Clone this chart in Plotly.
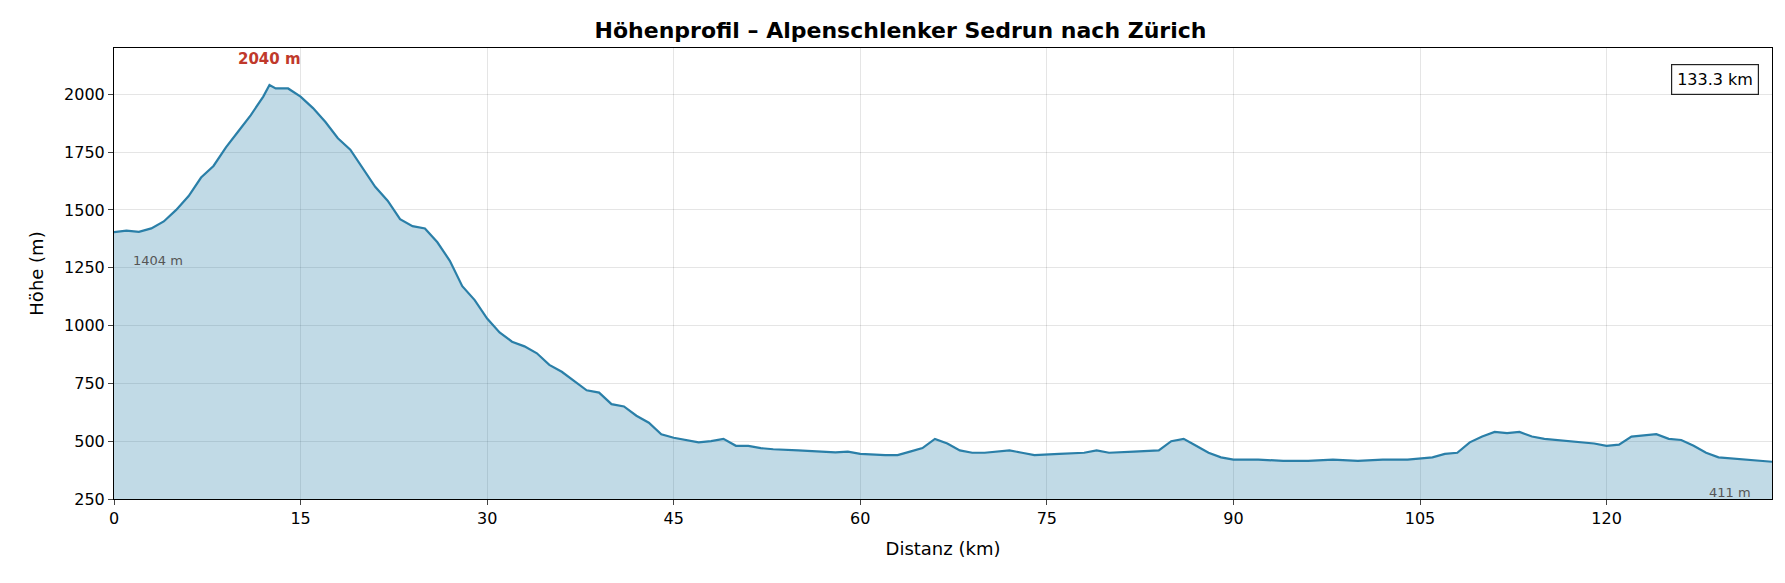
import plotly.graph_objects as go

dist_km = [0, 1, 2, 3, 4, 5, 6, 7, 8, 9, 10, 11, 12, 12.5, 13, 14, 15, 16, 17, 18, 19, 20,
           21, 22, 23, 24, 25, 26, 27, 28, 29, 30, 31, 32, 33, 34, 35, 36, 37, 38, 39, 40,
           41, 42, 43, 44, 45, 46, 47, 48, 49, 50, 51, 52, 53, 55, 57, 58, 59, 60, 62, 63,
           64, 65, 66, 67, 68, 69, 70, 71, 72, 73, 74, 76, 78, 79, 80, 82, 84, 85, 86, 87,
           88, 89, 90, 92, 94, 96, 98, 100, 102, 104, 106, 107, 108, 109, 110, 111, 112, 113,
           114, 115, 117, 119, 120, 121, 122, 123, 124, 125, 126, 127, 128, 129, 130, 131, 132, 133.3]
elev_m = [1404, 1410, 1405, 1420, 1450, 1500, 1560, 1640, 1690, 1770, 1840, 1910, 1990, 2040, 2025,
          2025, 1990, 1940, 1880, 1810, 1760, 1680, 1600, 1540, 1460, 1430, 1420, 1360, 1280, 1170,
          1110, 1030, 970, 930, 910, 880, 830, 800, 760, 720, 710, 660, 650, 610, 580, 530, 515,
          505, 495, 500, 510, 480, 480, 470, 465, 460, 455, 452, 455, 445, 440, 440, 455, 470,
          510, 490, 460, 450, 450, 455, 460, 450, 440, 445, 450, 460, 450, 455, 460, 500, 510,
          480, 450, 430, 420, 420, 415, 415, 420, 415, 420, 420, 430, 445, 450, 495, 520, 540,
          535, 540, 520, 510, 500, 490, 480, 485, 520, 525, 530, 510, 505, 480, 450, 430, 425,
          420, 415, 411]
x_ticks = [0, 15, 30, 45, 60, 75, 90, 105, 120]
y_ticks = [250, 500, 750, 1000, 1250, 1500, 1750, 2000]

font = "DejaVu Sans"
fig = go.Figure()
fig.add_trace(go.Scatter(x=dist_km, y=elev_m, mode="lines", fill="tozeroy",
                         fillcolor="rgba(42,127,168,0.29)", line=dict(color="#2a7fa8", width=2.2),
                         showlegend=False))

fig.add_annotation(x=12.5, y=2040, text="<b>2040 m</b>", showarrow=False, yshift=26,
                   font=dict(color="#c0392b", size=15))
fig.add_annotation(x=1.4, y=1280, text="1404 m", showarrow=False, xanchor="left",
                   font=dict(color="#555555", size=13))
fig.add_annotation(x=131.8, y=280, text="411 m", showarrow=False, xanchor="right",
                   font=dict(color="#555555", size=13))
fig.add_annotation(x=0.992, y=0.965, xref="paper", yref="paper", text="133.3 km",
                   showarrow=False, xanchor="right", yanchor="top", bordercolor="#222",
                   borderwidth=1.2, borderpad=5, bgcolor="white", font=dict(size=16, color="black"))

axis_common = dict(showline=True, linecolor="black", mirror=True, ticks="outside",
                   gridcolor="rgba(0,0,0,0.1)", zeroline=False, tickfont=dict(size=16, color="black"))
fig.update_xaxes(range=[0, 133.3], tickvals=x_ticks, title=dict(text="Distanz (km)", font=dict(size=18)),
                 **axis_common)
fig.update_yaxes(range=[250, 2200], tickvals=y_ticks, title=dict(text="Höhe (m)", font=dict(size=18)),
                 **axis_common)
fig.update_layout(
    width=1785, height=583, plot_bgcolor="white", paper_bgcolor="white",
    font=dict(family=font, color="black"),
    title=dict(text="<b>Höhenprofil – Alpenschlenker Sedrun nach Zürich</b>", x=0.5, y=0.975,
               font=dict(size=22)),
    margin=dict(l=106, r=21, t=40, b=92),
)
fig.write_html("out.html")
